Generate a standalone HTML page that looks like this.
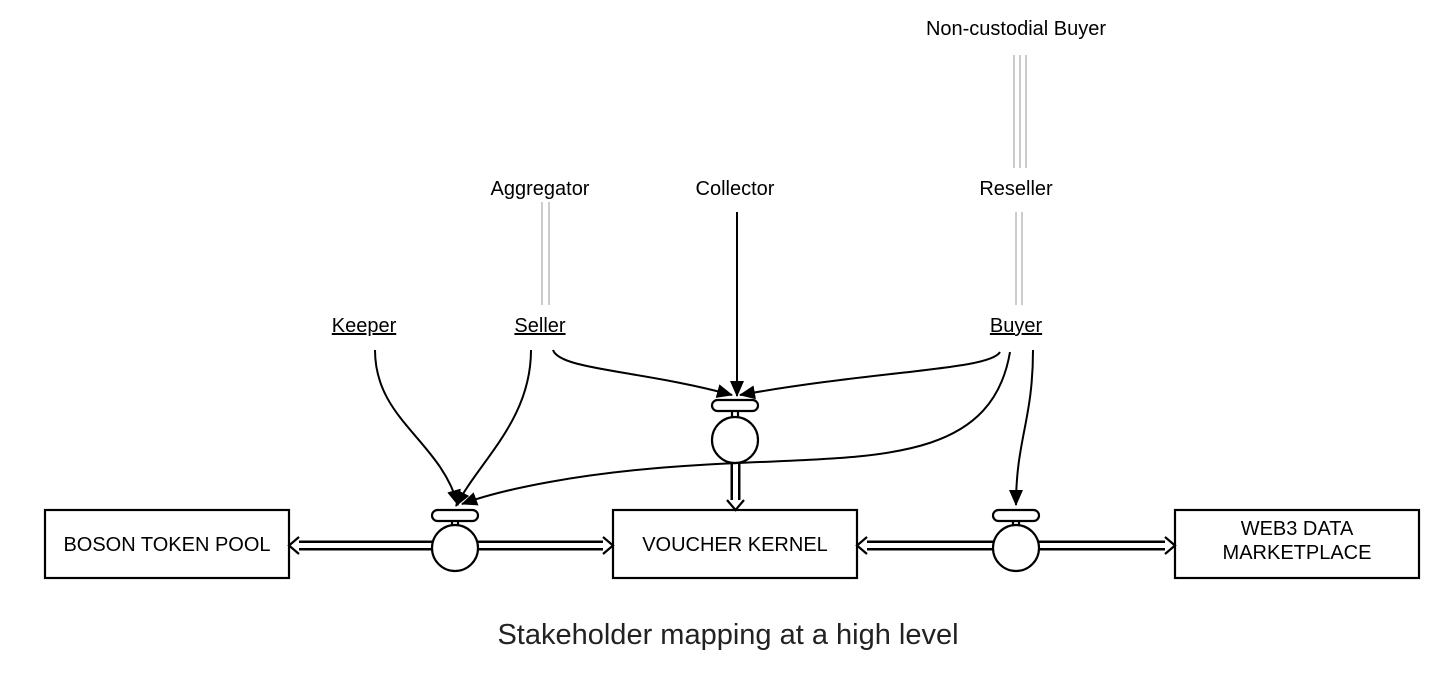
<!DOCTYPE html>
<html><head><style>body{margin:0;background:#fff}svg{display:block}</style></head><body>
<svg width="1456" height="675" viewBox="0 0 1456 675" xmlns="http://www.w3.org/2000/svg" font-family="Liberation Sans, sans-serif">
<defs>
<marker id="ahb" markerWidth="16" markerHeight="14" refX="15" refY="7" orient="auto" markerUnits="userSpaceOnUse" viewBox="0 0 16 14"><path d="M0,0 L16,7 L0,14 Z" fill="#000"/></marker>
</defs>
<rect width="1456" height="675" fill="#fff"/>
<g stroke="#000" stroke-width="2.2" fill="#fff">
<rect x="45" y="510" width="244" height="68"/>
<rect x="613" y="510" width="244" height="68"/>
<rect x="1175" y="510" width="244" height="68"/>
</g>
<g font-size="20" text-anchor="middle" fill="#000">
<text x="167" y="551">BOSON TOKEN POOL</text>
<text x="735" y="551">VOUCHER KERNEL</text>
<text x="1297" y="535">WEB3 DATA</text>
<text x="1297" y="559">MARKETPLACE</text>
</g>
<g fill="none">
<g stroke="#000" stroke-width="10">
<line x1="298" y1="545.5" x2="432" y2="545.5"/><line x1="478" y1="545.5" x2="604" y2="545.5"/>
<line x1="866" y1="545.5" x2="993" y2="545.5"/><line x1="1039" y1="545.5" x2="1166" y2="545.5"/>
<line x1="735.5" y1="463" x2="735.5" y2="500"/>
</g>
<g stroke="#fff" stroke-width="5">
<line x1="296" y1="545.5" x2="434" y2="545.5"/><line x1="476" y1="545.5" x2="606" y2="545.5"/>
<line x1="864" y1="545.5" x2="995" y2="545.5"/><line x1="1037" y1="545.5" x2="1168" y2="545.5"/>
<line x1="735.5" y1="461" x2="735.5" y2="502"/>
</g>
<g stroke="#000" stroke-width="2.2" fill="#fff">
<path d="M299,537 L289,545.5 L299,554"/><path d="M603,537 L613,545.5 L603,554"/>
<path d="M867,537 L857,545.5 L867,554"/><path d="M1165,537 L1175,545.5 L1165,554"/>
<path d="M727,500 L735.5,510 L744,500"/>
</g>
</g>
<g stroke="#000" stroke-width="2.2" fill="#fff">
<rect x="452" y="520" width="6" height="8"/><circle cx="455" cy="548" r="23"/><rect x="432" y="510" width="46" height="11" rx="5.5"/>
<rect x="1013" y="520" width="6" height="8"/><circle cx="1016" cy="548" r="23"/><rect x="993" y="510" width="46" height="11" rx="5.5"/>
<rect x="732" y="410" width="6" height="9"/><circle cx="735" cy="440" r="23"/><rect x="712" y="400" width="46" height="11" rx="5.5"/>
</g>
<g stroke="#ccc" stroke-width="2">
<line x1="542" y1="202" x2="542" y2="305"/><line x1="549" y1="202" x2="549" y2="305"/>
<line x1="1014" y1="55" x2="1014" y2="168"/><line x1="1020" y1="55" x2="1020" y2="168"/><line x1="1026" y1="55" x2="1026" y2="168"/>
<line x1="1016" y1="212" x2="1016" y2="305"/><line x1="1022" y1="212" x2="1022" y2="305"/>
</g>
<g fill="none" stroke="#000" stroke-width="2">
<path d="M375,350 C375,420 440,440 458,505" marker-end="url(#ahb)"/>
<path d="M531,350 C531,420 480,460 456,506" marker-end="url(#ahb)"/>
<path d="M1010,352 C990,470 860,455 700,465 C580,472 500,490 462,504" marker-end="url(#ahb)"/>
<path d="M553,350 C560,370 640,370 732,395" marker-end="url(#ahb)"/>
<path d="M1000,352 C990,370 880,370 740,395" marker-end="url(#ahb)"/>
<line x1="737" y1="212" x2="737" y2="396" marker-end="url(#ahb)"/>
<path d="M1033,350 C1033,420 1016,440 1016,505" marker-end="url(#ahb)"/>
</g>
<g font-size="20" text-anchor="middle" fill="#000">
<text x="1016" y="35">Non-custodial Buyer</text>
<text x="540" y="195">Aggregator</text>
<text x="735" y="195">Collector</text>
<text x="1016" y="195">Reseller</text>
<text x="364" y="332" text-decoration="underline">Keeper</text>
<text x="540" y="332" text-decoration="underline">Seller</text>
<text x="1016" y="332" text-decoration="underline">Buyer</text>
</g>
<text x="728" y="644" font-size="29" text-anchor="middle" fill="#222">Stakeholder mapping at a high level</text>
</svg>
</body></html>
